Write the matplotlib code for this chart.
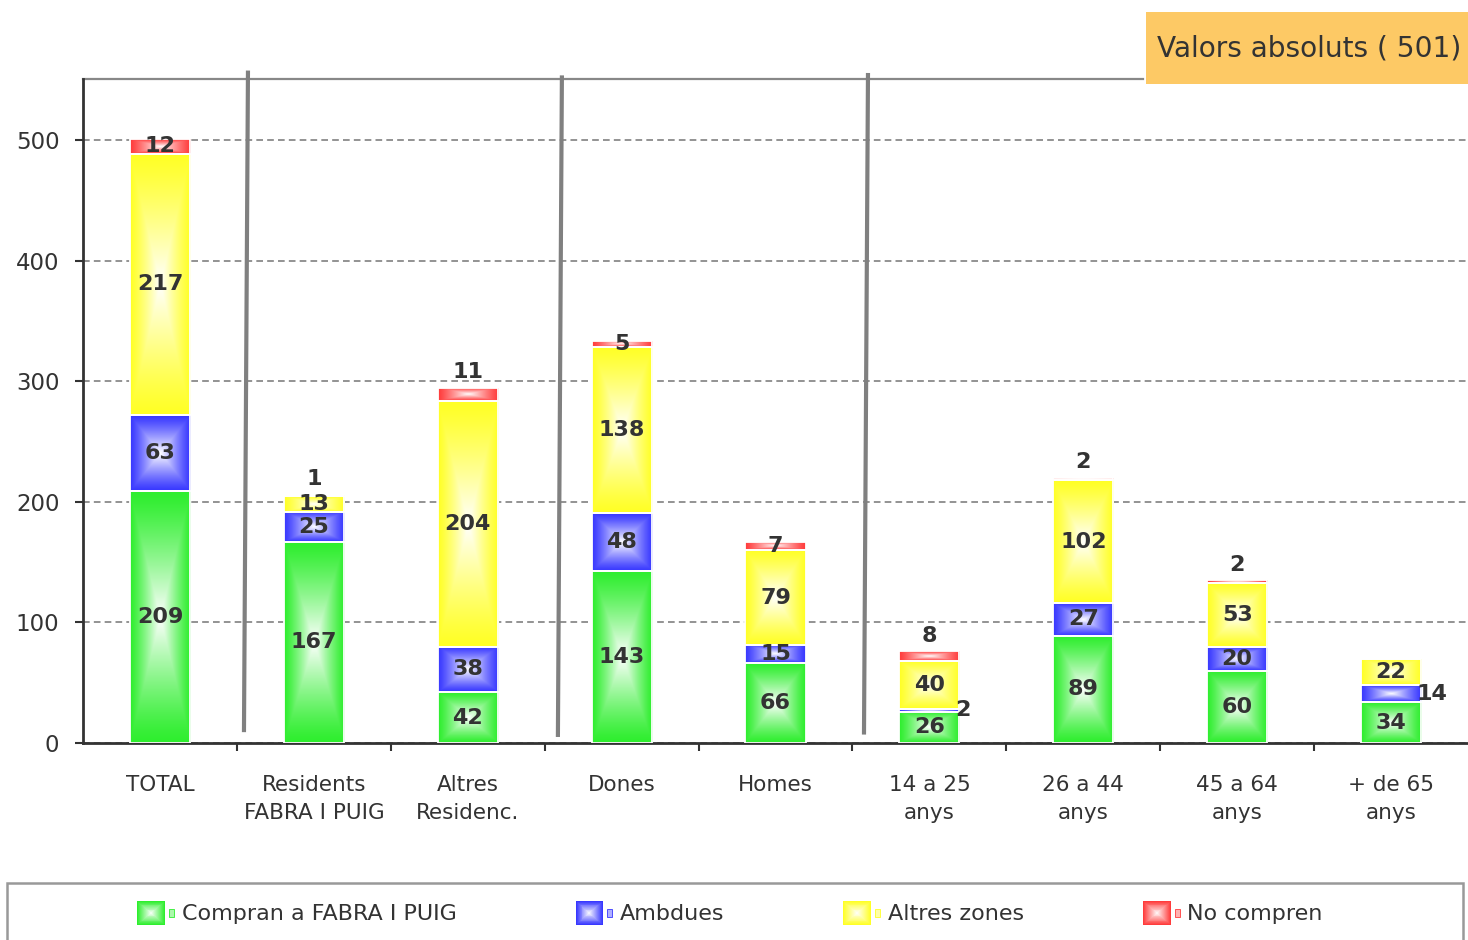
import numpy as np
import matplotlib
matplotlib.use('Agg')
import matplotlib.pyplot as plt
from matplotlib.patches import Rectangle, Patch
from matplotlib.legend_handler import HandlerBase
from matplotlib.colors import to_rgb

# data
categories = ['TOTAL', 'Residents\nFABRA I PUIG', 'Altres\nResidenc.', 'Dones', 'Homes',
              '14 a 25\nanys', '26 a 44\nanys', '45 a 64\nanys', '+ de 65\nanys']
series_names = ['Compran a FABRA I PUIG', 'Ambdues', 'Altres zones', 'No compren']
compran = [209, 167, 42, 143, 66, 26, 89, 60, 34]
ambdues = [63, 25, 38, 48, 15, 2, 27, 20, 14]
altres = [217, 13, 204, 138, 79, 40, 102, 53, 22]
no_compren = [12, 1, 11, 5, 7, 8, 2, 2, 0]
yticks = [0, 100, 200, 300, 400, 500]
title = 'Valors absoluts ( 501)'

colors = ['#2EEE2E', '#3838FF', '#FFFF26', '#FF3C3C']
txt = '#333333'
# "No compren" labels that Excel put above the bar instead of on the segment
above_top = {1, 2, 5, 6, 7}


def grad(color, n=64, p=1.2):
    # "from center" gradient: white in the middle, full colour at the edges
    u = np.linspace(-1, 1, n)
    t = np.maximum(np.abs(u)[None, :], np.abs(u)[:, None])
    w = np.clip(1 - t, 0, 1) ** p
    c = np.array(to_rgb(color))
    return c[None, None, :] * (1 - w[..., None]) + w[..., None]


class GradHandler(HandlerBase):
    def create_artists(self, legend, orig_handle, xdescent, ydescent,
                       width, height, fontsize, trans):
        c = np.array(to_rgb(orig_handle.get_facecolor()))
        arts = []
        n = 14
        for i in range(n):
            f = i / n
            w, h = width * (1 - f), height * (1 - f)
            col = c * (1 - f) + f
            arts.append(Rectangle((-xdescent + (width - w) / 2, -ydescent + (height - h) / 2),
                                  w, h, fc=col, ec='none', transform=trans))
        # small key stub after the square
        arts.append(Rectangle((-xdescent + width + 3, -ydescent + height * 0.35), 3.5, height * 0.3,
                              fc=c * 0.4 + 0.6, ec=c, lw=0.6, transform=trans))
        return arts


fig = plt.figure(figsize=(14.68, 9.4), dpi=100)
ax = fig.add_axes([83 / 1468, 1 - 743 / 940, 1 - 83 / 1468, (743 - 79) / 940])

x = np.arange(len(categories))
bw = 0.39
stack = [compran, ambdues, altres, no_compren]
bottom = np.zeros(len(categories))
for k, vals in enumerate(stack):
    vals = np.array(vals, dtype=float)
    bars = ax.bar(x, vals, bw, bottom=bottom, color=colors[k], zorder=2, linewidth=0)
    for p in bars:
        if p.get_height() <= 0:
            continue
        x0, y0, w, h = p.get_x(), p.get_y(), p.get_width(), p.get_height()
        im = ax.imshow(grad(colors[k]), extent=(x0, x0 + w, y0, y0 + h), aspect='auto',
                       origin='lower', interpolation='bilinear', zorder=2.5)
        im.set_clip_path(p)
    ax.bar(x, vals, bw, bottom=bottom, fill=False, edgecolor='white', linewidth=1.3, zorder=3)
    # value labels
    for i, v in enumerate(vals):
        if v <= 0:
            continue
        if k == 3 and i in above_top:
            ax.annotate(f'{int(v)}', (x[i], bottom[i] + v), xytext=(0, 4), textcoords='offset points',
                        ha='center', va='bottom', fontsize=16, fontweight='bold', color=txt, zorder=5)
        elif k == 1 and v < 15:
            ax.annotate(f'{int(v)}', (x[i] + bw / 2, bottom[i] + v / 2), xytext=(-3, 0),
                        textcoords='offset points', ha='left', va='center', fontsize=16,
                        fontweight='bold', color=txt, zorder=5)
        else:
            ax.text(x[i], bottom[i] + v / 2, f'{int(v)}', ha='center', va='center', fontsize=16,
                    fontweight='bold', color=txt, zorder=5)
    bottom += vals

ax.set_xlim(-0.5, len(categories) - 0.5)
ax.set_ylim(0, 551)

# axes styling
for s in ['top', 'right']:
    ax.spines[s].set_visible(False)
for s in ['left', 'bottom']:
    ax.spines[s].set_color(txt)
    ax.spines[s].set_linewidth(2)
ax.plot([0, (1143 - 83) / 1385], [1, 1], transform=ax.transAxes, color='#888888', lw=1.6,
        clip_on=False, zorder=1)

ax.set_yticks(yticks)
ax.tick_params(axis='y', length=6, width=1.5, color=txt, labelsize=16.5, labelcolor=txt, pad=11)
ax.yaxis.grid(True, color='#808080', linestyle=(0, (4, 2.5)), linewidth=1.2, zorder=0)
ax.set_axisbelow(True)

ax.set_xticks(np.arange(0.5, len(categories) - 1, 1.0))
ax.set_xticklabels([])
ax.tick_params(axis='x', which='major', length=6, width=1.5, color=txt)
ax.set_xticks(x, minor=True)
ax.set_xticklabels(categories, minor=True, fontsize=15.5, color=txt, linespacing=1.5)
ax.tick_params(axis='x', which='minor', length=0, pad=23)

# group separators
for xt, xb, yt, yb in [(0.572, 0.546, 558, 9), (2.612, 2.586, 554, 5), (4.601, 4.575, 556, 7)]:
    ax.plot([xt, xb], [yt, yb], color='#808080', lw=3, clip_on=False, zorder=4,
            solid_capstyle='butt')

# title box
fig.patches.append(Rectangle((1146 / 1468, 1 - 84 / 940), 322 / 1468, 72 / 940,
                             transform=fig.transFigure, fc='#FDC965', ec='none'))
fig.text(1157 / 1468, 1 - 49 / 940, title, fontsize=20.2, color=txt, ha='left', va='center')

# legend frame and legend
fig.patches.append(Rectangle((7 / 1468, -0.02), 1456 / 1468, (940 - 883) / 940 + 0.02,
                             transform=fig.transFigure, fc='none', ec='#999999', lw=1.8))
handles = [Patch(facecolor=c) for c in colors]
leg = fig.legend(handles, series_names, ncol=4, loc='center',
                 bbox_to_anchor=(730 / 1468, 1 - 913 / 940), frameon=False, fontsize=16,
                 handlelength=1.25, handleheight=1.25, handletextpad=0.75, columnspacing=5.35,
                 handler_map={Patch: GradHandler()})
for t in leg.get_texts():
    t.set_color(txt)

fig.savefig('out.png', dpi=100)
